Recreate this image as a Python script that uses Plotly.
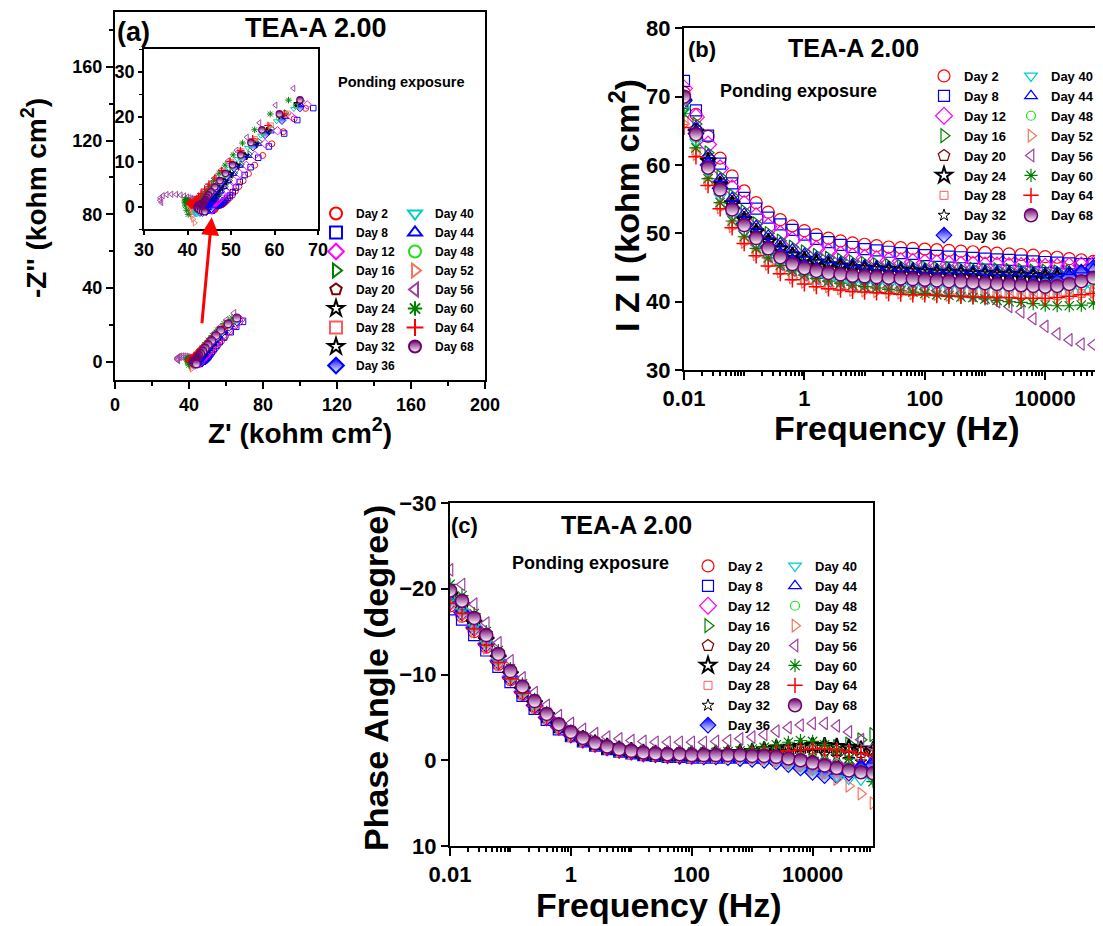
import math
import plotly.graph_objects as go

# ---------------- data ----------------
days = ["Day 2", "Day 8", "Day 12", "Day 16", "Day 20", "Day 24", "Day 28", "Day 32", "Day 36",
        "Day 40", "Day 44", "Day 48", "Day 52", "Day 56", "Day 60", "Day 64", "Day 68"]

freq = [0.01, 0.0158, 0.0251, 0.0398, 0.0631, 0.1, 0.158, 0.251, 0.398, 0.631,
        1, 1.58, 2.51, 3.98, 6.31, 10, 15.8, 25.1, 39.8, 63.1,
        100, 158, 251, 398, 631, 1000, 1580, 2510, 3980, 6310,
        10000, 15800, 25100, 39800, 63100, 100000]

# |Z| (kohm cm2)
z_day2 = [70.6, 67.4, 64.2, 61.0, 58.4, 56.2, 54.5, 53.1, 52.0, 51.1, 50.4, 49.8, 49.3, 48.9, 48.6, 48.4, 48.2, 48.0,
          47.9, 47.8, 47.7, 47.6, 47.5, 47.4, 47.3, 47.2, 47.1, 47.0, 46.9, 46.8, 46.6, 46.5, 46.3, 46.1, 45.9, 45.7]
z_day8 = [72.3, 68.0, 64.3, 60.2, 57.3, 55.2, 53.6, 52.3, 51.3, 50.5, 49.8, 49.2, 48.7, 48.3, 48.0, 47.7, 47.5, 47.3,
          47.1, 47.0, 46.8, 46.7, 46.6, 46.5, 46.4, 46.3, 46.2, 46.1, 46.0, 45.9, 45.8, 45.7, 45.6, 45.5, 45.5, 45.5]
z_day12 = [71.2, 67.0, 63.0, 59.5, 56.6, 54.3, 52.5, 51.0, 49.9, 49.0, 48.3, 47.7, 47.3, 46.9, 46.6, 46.4, 46.2, 46.0,
           45.9, 45.8, 45.7, 45.6, 45.5, 45.4, 45.4, 45.3, 45.3, 45.2, 45.2, 45.1, 45.1, 45.1, 45.2, 45.3, 45.4, 45.5]
z_day16 = [70.3, 66.0, 61.8, 58.3, 55.5, 53.2, 51.4, 50.0, 48.9, 48.0, 47.3, 46.8, 46.4, 46.1, 45.8, 45.6, 45.4, 45.3,
           45.2, 45.1, 45.0, 44.9, 44.9, 44.8, 44.8, 44.7, 44.7, 44.6, 44.6, 44.5, 44.5, 44.4, 44.4, 44.3, 44.3, 44.3]
z_day20 = [69.6, 65.2, 61.0, 57.4, 54.5, 52.2, 50.3, 48.9, 47.8, 46.9, 46.2, 45.7, 45.3, 45.0, 44.8, 44.7, 44.6, 44.5,
           44.4, 44.3, 44.2, 44.1, 44.1, 44.0, 43.9, 43.9, 43.8, 43.8, 43.7, 43.6, 43.5, 43.5, 43.5, 43.6, 43.7, 43.8]
z_day24 = [69.2, 64.8, 60.6, 57.1, 54.3, 52.0, 50.2, 48.8, 47.7, 46.8, 46.2, 45.8, 45.4, 45.2, 45.0, 44.9, 44.8, 44.7,
           44.6, 44.5, 44.4, 44.3, 44.3, 44.2, 44.1, 44.1, 44.0, 44.0, 43.9, 43.8, 43.7, 43.7, 43.7, 43.8, 43.9, 44.0]
z_day28 = [66.5, 62.0, 57.6, 54.0, 51.2, 48.9, 47.1, 45.7, 44.6, 43.7, 43.1, 42.7, 42.4, 42.2, 42.0, 41.9, 41.8, 41.7,
           41.6, 41.5, 41.5, 41.4, 41.3, 41.3, 41.2, 41.1, 41.0, 41.0, 40.9, 40.8, 40.8, 40.9, 41.0, 41.2, 41.4, 41.6]
z_day32 = [68.8, 64.4, 60.2, 56.7, 53.9, 51.6, 49.8, 48.4, 47.3, 46.4, 45.8, 45.3, 44.9, 44.7, 44.5, 44.4, 44.3, 44.2,
           44.1, 44.0, 43.9, 43.8, 43.8, 43.7, 43.6, 43.6, 43.5, 43.5, 43.4, 43.3, 43.2, 43.2, 43.2, 43.3, 43.4, 43.5]
z_day36 = [69.4, 64.6, 60.0, 56.6, 53.7, 51.4, 49.5, 48.0, 46.8, 45.8, 45.1, 44.6, 44.2, 43.9, 43.7, 43.6, 43.5, 43.4,
           43.3, 43.2, 43.1, 43.0, 42.9, 42.9, 42.8, 42.8, 42.7, 42.7, 42.6, 42.6, 42.6, 42.9, 43.5, 44.3, 45.0, 45.5]
z_day40 = [68.0, 63.4, 59.0, 55.4, 52.5, 50.2, 48.3, 46.8, 45.6, 44.7, 44.0, 43.5, 43.2, 42.9, 42.7, 42.6, 42.5, 42.4,
           42.3, 42.2, 42.1, 42.0, 42.0, 41.9, 41.9, 41.8, 41.8, 41.7, 41.7, 41.6, 41.6, 41.6, 41.7, 41.8, 42.0, 42.2]
z_day44 = [69.8, 65.6, 61.5, 58.0, 55.2, 52.9, 51.1, 49.7, 48.6, 47.7, 47.0, 46.5, 46.1, 45.8, 45.5, 45.3, 45.1, 45.0,
           44.9, 44.8, 44.7, 44.6, 44.6, 44.5, 44.5, 44.4, 44.4, 44.3, 44.3, 44.2, 44.2, 44.3, 44.4, 44.6, 44.8, 45.0]
z_day48 = [68.6, 64.0, 59.6, 56.1, 53.2, 50.9, 49.1, 47.6, 46.4, 45.5, 44.9, 44.4, 44.1, 43.9, 43.7, 43.6, 43.5, 43.4,
           43.3, 43.2, 43.1, 43.0, 43.0, 42.9, 42.9, 42.8, 42.8, 42.7, 42.7, 42.6, 42.6, 42.6, 42.7, 42.8, 43.0, 43.2]
z_day52 = [66.0, 61.6, 57.3, 53.8, 51.0, 48.7, 46.9, 45.5, 44.4, 43.5, 42.9, 42.5, 42.2, 41.9, 41.7, 41.6, 41.5, 41.4,
           41.3, 41.2, 41.2, 41.1, 41.0, 41.0, 40.9, 40.8, 40.7, 40.7, 40.6, 40.5, 40.5, 40.6, 40.8, 41.1, 41.4, 41.8]
z_day56 = [69.5, 64.3, 59.5, 55.8, 52.8, 50.3, 48.3, 46.7, 45.5, 44.6, 43.9, 43.4, 43.0, 42.7, 42.5, 42.3, 42.2, 42.1,
           42.0, 41.9, 41.8, 41.6, 41.4, 41.2, 40.9, 40.5, 40.0, 39.3, 38.5, 37.5, 36.4, 35.3, 34.4, 33.8, 33.7, 34.0]
z_day60 = [67.5, 62.5, 58.0, 54.5, 51.8, 49.5, 47.8, 46.4, 45.3, 44.5, 43.9, 43.4, 43.0, 42.7, 42.4, 42.2, 42.0, 41.8,
           41.6, 41.4, 41.2, 41.0, 40.9, 40.7, 40.6, 40.4, 40.2, 40.0, 39.9, 39.7, 39.5, 39.4, 39.4, 39.5, 39.8, 40.2]
z_day64 = [65.5, 61.2, 57.0, 53.6, 50.8, 48.5, 46.7, 45.2, 44.1, 43.2, 42.6, 42.2, 41.9, 41.7, 41.5, 41.4, 41.3, 41.2,
           41.1, 41.0, 41.0, 40.9, 40.8, 40.8, 40.7, 40.7, 40.6, 40.6, 40.5, 40.5, 40.5, 40.6, 40.8, 41.0, 41.2, 41.3]
z_day68 = [70.0, 64.5, 59.6, 56.4, 53.5, 51.2, 49.3, 47.8, 46.5, 45.5, 44.9, 44.5, 44.2, 44.0, 43.8, 43.7, 43.6, 43.5,
           43.4, 43.3, 43.2, 43.1, 43.0, 42.9, 42.8, 42.7, 42.6, 42.5, 42.4, 42.3, 42.2, 42.3, 42.6, 43.0, 43.5, 44.0]

# phase angle (degree)
ph_day2 = [-18.0, -16.8, -15.0, -13.2, -11.2, -9.4, -7.7, -6.2, -4.9, -3.8, -2.9, -2.3, -1.8, -1.4, -1.1, -0.9, -0.7, -0.6,
           -0.5, -0.5, -0.4, -0.4, -0.4, -0.4, -0.4, -0.4, -0.4, -0.3, -0.2, 0.0, 0.2, 0.5, 0.8, 1.0, 1.1, 1.2]
ph_day8 = [-17.6, -16.4, -14.6, -12.8, -10.9, -9.1, -7.5, -6.0, -4.7, -3.6, -2.8, -2.2, -1.7, -1.3, -1.0, -0.8, -0.6, -0.5,
           -0.4, -0.4, -0.3, -0.3, -0.3, -0.3, -0.3, -0.3, -0.3, -0.2, -0.1, 0.1, 0.3, 0.6, 0.9, 1.1, 1.2, 1.2]
ph_day12 = [-18.5, -17.3, -15.5, -13.6, -11.6, -9.7, -8.0, -6.4, -5.0, -3.9, -3.0, -2.4, -1.9, -1.5, -1.2, -1.0, -0.8, -0.7,
            -0.6, -0.5, -0.5, -0.5, -0.5, -0.5, -0.5, -0.5, -0.4, -0.3, -0.2, 0.0, 0.2, 0.4, 0.6, 0.8, 0.9, 1.0]
ph_day16 = [-19.5, -18.3, -16.3, -14.3, -12.1, -10.1, -8.3, -6.6, -5.2, -4.0, -3.1, -2.5, -1.9, -1.5, -1.2, -1.0, -0.9, -0.8,
            -0.7, -0.7, -0.7, -0.7, -0.7, -0.7, -0.8, -0.8, -0.9, -1.0, -1.1, -1.2, -1.3, -1.4, -1.6, -1.9, -2.4, -3.0]
ph_day20 = [-19.0, -17.8, -15.9, -13.9, -11.8, -9.9, -8.1, -6.5, -5.1, -3.9, -3.1, -2.4, -1.9, -1.5, -1.2, -1.0, -0.8, -0.7,
            -0.7, -0.6, -0.6, -0.6, -0.6, -0.7, -0.7, -0.8, -0.9, -1.0, -1.1, -1.2, -1.2, -1.2, -1.1, -1.0, -0.9, -0.8]
ph_day24 = [-19.2, -18.0, -16.0, -14.0, -11.9, -10.0, -8.2, -6.6, -5.2, -4.0, -3.1, -2.5, -2.0, -1.6, -1.3, -1.1, -0.9, -0.8,
            -0.7, -0.7, -0.7, -0.7, -0.8, -0.8, -0.9, -1.0, -1.2, -1.4, -1.5, -1.6, -1.7, -1.7, -1.6, -1.5, -1.3, -1.2]
ph_day28 = [-18.2, -17.0, -15.2, -13.3, -11.3, -9.5, -7.8, -6.3, -4.9, -3.8, -3.0, -2.4, -1.9, -1.5, -1.2, -1.0, -0.8, -0.7,
            -0.6, -0.6, -0.6, -0.6, -0.6, -0.7, -0.7, -0.8, -0.9, -1.0, -1.1, -1.2, -1.2, -1.1, -0.9, -0.6, -0.3, 0.0]
ph_day32 = [-19.0, -17.8, -15.8, -13.8, -11.7, -9.8, -8.0, -6.4, -5.0, -3.9, -3.0, -2.4, -1.9, -1.5, -1.2, -1.0, -0.8, -0.7,
            -0.7, -0.6, -0.6, -0.6, -0.6, -0.7, -0.7, -0.8, -0.9, -1.0, -1.0, -1.0, -0.9, -0.7, -0.4, -0.1, 0.2, 0.4]
ph_day36 = [-18.4, -17.2, -15.4, -13.5, -11.5, -9.6, -7.9, -6.4, -5.0, -3.9, -3.0, -2.4, -1.9, -1.5, -1.2, -1.0, -0.8, -0.7,
            -0.6, -0.5, -0.5, -0.4, -0.4, -0.3, -0.2, -0.1, 0.0, 0.2, 0.5, 0.9, 1.4, 1.8, 1.8, 1.5, 1.0, 0.6]
ph_day40 = [-18.6, -17.4, -15.5, -13.6, -11.6, -9.7, -8.0, -6.4, -5.0, -3.9, -3.0, -2.4, -1.9, -1.5, -1.2, -1.0, -0.8, -0.7,
            -0.6, -0.5, -0.5, -0.5, -0.4, -0.4, -0.3, -0.2, -0.1, 0.1, 0.4, 0.7, 1.1, 1.5, 1.9, 2.2, 2.3, 2.3]
ph_day44 = [-18.8, -17.6, -15.7, -13.8, -11.7, -9.8, -8.1, -6.5, -5.1, -4.0, -3.1, -2.4, -1.9, -1.5, -1.2, -1.0, -0.8, -0.7,
            -0.6, -0.6, -0.5, -0.5, -0.5, -0.5, -0.5, -0.5, -0.4, -0.3, -0.1, 0.2, 0.6, 1.0, 1.3, 1.1, 0.5, 0.0]
ph_day48 = [-19.0, -17.8, -15.8, -13.8, -11.7, -9.8, -8.0, -6.5, -5.1, -3.9, -3.0, -2.4, -1.9, -1.5, -1.2, -1.0, -0.8, -0.7,
            -0.6, -0.6, -0.5, -0.5, -0.5, -0.5, -0.5, -0.5, -0.5, -0.5, -0.5, -0.4, -0.2, 0.1, 0.4, 0.8, 1.2, 1.6]
ph_day52 = [-18.0, -16.8, -15.0, -13.1, -11.2, -9.4, -7.7, -6.2, -4.9, -3.8, -2.9, -2.3, -1.8, -1.4, -1.1, -0.9, -0.7, -0.6,
            -0.5, -0.5, -0.4, -0.4, -0.4, -0.3, -0.3, -0.2, -0.1, 0.1, 0.3, 0.6, 1.0, 1.5, 2.2, 3.0, 3.9, 5.0]
ph_day56 = [-22.2, -20.5, -18.2, -16.0, -13.7, -11.6, -9.6, -7.9, -6.4, -5.2, -4.3, -3.6, -3.1, -2.7, -2.5, -2.3, -2.2, -2.1,
            -2.1, -2.1, -2.1, -2.1, -2.2, -2.3, -2.5, -2.7, -3.0, -3.4, -3.8, -4.1, -4.3, -4.3, -4.0, -3.3, -2.4, -1.5]
ph_day60 = [-20.5, -19.2, -17.1, -15.0, -12.8, -10.7, -8.9, -7.1, -5.6, -4.3, -3.4, -2.7, -2.1, -1.7, -1.4, -1.2, -1.0, -0.9,
            -0.8, -0.8, -0.8, -0.8, -0.9, -1.0, -1.1, -1.3, -1.5, -1.8, -2.1, -2.3, -2.2, -1.8, -1.2, -0.2, 1.2, 2.5]
ph_day64 = [-18.3, -17.1, -15.3, -13.4, -11.4, -9.5, -7.8, -6.3, -5.0, -3.8, -3.0, -2.4, -1.9, -1.5, -1.2, -1.0, -0.8, -0.7,
            -0.6, -0.6, -0.6, -0.6, -0.6, -0.7, -0.7, -0.8, -0.9, -1.0, -1.1, -1.2, -1.3, -1.3, -1.2, -1.0, -0.8, -0.6]
ph_day68 = [-19.8, -18.6, -16.6, -14.6, -12.4, -10.4, -8.6, -6.9, -5.4, -4.2, -3.3, -2.6, -2.0, -1.6, -1.3, -1.1, -0.9, -0.8,
            -0.7, -0.7, -0.6, -0.6, -0.6, -0.6, -0.6, -0.5, -0.5, -0.4, -0.2, 0.0, 0.3, 0.6, 0.9, 1.2, 1.4, 1.5]

log_tick_vals = [0.01, 1, 100, 10000]
log_tick_text = ["0.01", "1", "100", "10000"]

# ---------------- styling ----------------
FONT = "Liberation Sans, Arial, sans-serif"
# the page body keeps an 8 px default margin, so the figure is 8 px smaller than the window
OFF = 8
W, H = 1103 - OFF, 926 - OFF

modulus = [z_day2, z_day8, z_day12, z_day16, z_day20, z_day24, z_day28, z_day32, z_day36,
           z_day40, z_day44, z_day48, z_day52, z_day56, z_day60, z_day64, z_day68]
phase = [ph_day2, ph_day8, ph_day12, ph_day16, ph_day20, ph_day24, ph_day28, ph_day32, ph_day36,
         ph_day40, ph_day44, ph_day48, ph_day52, ph_day56, ph_day60, ph_day64, ph_day68]

styles = {
    "Day 2": dict(symbol="circle-open", color="#FF0000", size=12, lw=1.2),
    "Day 8": dict(symbol="square-open", color="#0000FF", size=11, lw=1.2),
    "Day 12": dict(symbol="diamond-open", color="#FF00FF", size=13, lw=1.2),
    "Day 16": dict(symbol="triangle-right-open", color="#008000", size=12, lw=1.2),
    "Day 20": dict(symbol="pentagon-open", color="#800000", size=12, lw=1.2),
    "Day 24": dict(symbol="star-open", color="#000000", size=12, lw=2.0),
    "Day 28": dict(symbol="square-open", color="#FF5A5A", size=8, lw=1.0),
    "Day 32": dict(symbol="star-open", color="#000000", size=9, lw=1.0),
    "Day 36": dict(symbol="diamond", color="#0000FF", size=12, lw=1.2, grad=True),
    "Day 40": dict(symbol="triangle-down-open", color="#00CCCC", size=11, lw=1.2),
    "Day 44": dict(symbol="triangle-up-open", color="#0000FF", size=11, lw=1.2),
    "Day 48": dict(symbol="circle-open", color="#22DD22", size=9, lw=1.2),
    "Day 52": dict(symbol="triangle-right-open", color="#F07860", size=11, lw=1.2),
    "Day 56": dict(symbol="triangle-left-open", color="#A040A0", size=11, lw=1.2),
    "Day 60": dict(symbol="asterisk-open", color="#008000", size=11, lw=1.2),
    "Day 64": dict(symbol="cross-thin-open", color="#FF0000", size=11, lw=1.5),
    "Day 68": dict(symbol="circle", color="#6E006E", size=13, lw=1.5, grad=True),
}


def marker(day, scale=1.0, lwscale=1.0):
    s = styles[day]
    m = dict(symbol=s["symbol"], size=s["size"] * scale, color=s["color"],
             line=dict(color=s["color"], width=s["lw"] * lwscale))
    if s.get("grad"):
        m["gradient"] = dict(type="vertical", color="white")
    return m


def px_x(p):
    return (p - OFF) / W


def px_y(p):
    return 1 - (p - OFF) / H


fig = go.Figure()

for i, day in enumerate(days):
    mod = modulus[i]
    ph = phase[i]
    zre = [m * math.cos(math.radians(p)) for m, p in zip(mod, ph)]
    zim = [-m * math.sin(math.radians(p)) for m, p in zip(mod, ph)]
    col1 = i < 9
    # (a) main Nyquist
    fig.add_trace(go.Scatter(x=zre, y=zim, mode="markers", name=day, xaxis="x", yaxis="y",
                             marker=marker(day, 0.6, 0.8),
                             legend="legend" if col1 else "legend2"))
    # (a) inset
    fig.add_trace(go.Scatter(x=zre, y=zim, mode="markers", name=day, xaxis="x2", yaxis="y2",
                             marker=marker(day, 0.5, 0.8), showlegend=False))
    # (b) Bode modulus
    fig.add_trace(go.Scatter(x=freq, y=mod, mode="markers", name=day, xaxis="x3", yaxis="y3",
                             marker=marker(day),
                             legend="legend3" if col1 else "legend4"))
    # (c) Bode phase
    fig.add_trace(go.Scatter(x=freq, y=ph, mode="markers", name=day, xaxis="x4", yaxis="y4",
                             marker=marker(day),
                             legend="legend5" if col1 else "legend6"))

tickfont_a = dict(family=FONT, size=18, color="black", weight="bold")
tickfont_b = dict(family=FONT, size=22, color="black", weight="bold")

axis_common = dict(showline=True, linecolor="black", linewidth=2, ticks="outside", tickcolor="black",
                   tickwidth=2, showgrid=False, zeroline=False, automargin=False)

minor_log = [k * 10 ** d for d in range(-2, 5) for k in range(1, 10) if not (k == 1 and d % 2 == 0)]

fig.update_layout(
    width=W, height=H, autosize=False,
    margin=dict(l=0, r=0, t=0, b=0),
    paper_bgcolor="white", plot_bgcolor="white",
    font=dict(family=FONT, color="black"),
    # (a) main
    xaxis=dict(domain=[px_x(115), px_x(485)], range=[0, 200], tickvals=[0, 40, 80, 120, 160, 200],
               minor=dict(dtick=20, ticks="outside", ticklen=4, tickcolor="black", tickwidth=1.5),
               ticklen=7, mirror=True, tickfont=tickfont_a, anchor="y", **axis_common),
    yaxis=dict(domain=[px_y(380), px_y(11.7)], range=[-10, 190], tickvals=[0, 40, 80, 120, 160],
               minor=dict(dtick=20, ticks="outside", ticklen=4, tickcolor="black", tickwidth=1.5),
               ticklen=7, mirror=True, tickfont=tickfont_a, anchor="x", **axis_common),
    # (a) inset
    xaxis2=dict(domain=[px_x(144), px_x(318)], range=[30, 70], tickvals=[30, 40, 50, 60, 70],
                ticklen=4, mirror=True, tickfont=tickfont_a, anchor="y2",
                **{**axis_common, "linewidth": 1.5, "tickwidth": 1.5}),
    yaxis2=dict(domain=[px_y(229), px_y(49)], range=[-5, 35], tickvals=[0, 10, 20, 30],
                minor=dict(dtick=5, ticks="outside", ticklen=3, tickcolor="black", tickwidth=1),
                ticklen=4, mirror=True, tickfont=tickfont_a, anchor="x2",
                **{**axis_common, "linewidth": 1.5, "tickwidth": 1.5}),
    # (b)
    xaxis3=dict(domain=[px_x(684), 1.0], type="log", range=[-2, 4.96],
                tickvals=log_tick_vals, ticktext=log_tick_text, ticklen=8, mirror=True,
                minor=dict(tickvals=minor_log, ticks="outside", ticklen=4, tickcolor="black", tickwidth=1.5),
                tickfont=tickfont_b, anchor="y3", **axis_common),
    yaxis3=dict(domain=[px_y(370), px_y(28.3)], range=[30, 80], tickvals=[30, 40, 50, 60, 70, 80],
                ticklen=7, mirror=False, tickfont=tickfont_b, anchor="x3", **axis_common),
    # (c)
    xaxis4=dict(domain=[px_x(450), px_x(873)], type="log", range=[-2, 5.0],
                tickvals=log_tick_vals, ticktext=log_tick_text, ticklen=8, mirror=True,
                minor=dict(tickvals=minor_log, ticks="outside", ticklen=4, tickcolor="black", tickwidth=1.5),
                tickfont=tickfont_b, anchor="y4", **axis_common),
    yaxis4=dict(domain=[px_y(846), px_y(503)], range=[10, -30], tickvals=[-30, -20, -10, 0, 10],
                ticklen=7, mirror=True, tickfont=tickfont_b, anchor="x4", **axis_common),
)

legend_common = dict(xanchor="left", yanchor="top", bgcolor="rgba(0,0,0,0)", borderwidth=0,
                     tracegroupgap=0, traceorder="normal")
leg_font_a = dict(family=FONT, size=12, color="black", weight="bold")
leg_font_b = dict(family=FONT, size=13, color="black", weight="bold")
fig.update_layout(
    legend=dict(x=px_x(316), y=px_y(199), font=leg_font_a, itemsizing="constant", **legend_common),
    legend2=dict(x=px_x(395), y=px_y(199), font=leg_font_a, itemsizing="constant", **legend_common),
    legend3=dict(x=px_x(924), y=px_y(61), font=leg_font_b, itemsizing="trace", **legend_common),
    legend4=dict(x=px_x(1011), y=px_y(61), font=leg_font_b, itemsizing="trace", **legend_common),
    legend5=dict(x=px_x(688), y=px_y(551), font=leg_font_b, itemsizing="trace", **legend_common),
    legend6=dict(x=px_x(775), y=px_y(551), font=leg_font_b, itemsizing="trace", **legend_common),
)


def label(text, x, y, size, xanchor="left", angle=0):
    return dict(text=text, x=px_x(x), y=px_y(y), xref="paper", yref="paper", showarrow=False,
                xanchor=xanchor, yanchor="middle", textangle=angle,
                font=dict(family=FONT, size=size, color="black", weight="bold"))


annotations = [
    label("(a)", 115, 32, 27),
    label("TEA-A 2.00", 316, 28, 27, "center"),
    label("Ponding exposure", 336, 82, 14.5),
    label("(b)", 686, 50, 22),
    label("TEA-A 2.00", 853, 48, 25, "center"),
    label("Ponding exposure", 718, 91, 18),
    label("(c)", 449, 525, 22),
    label("TEA-A 2.00", 626, 525, 25, "center"),
    label("Ponding exposure", 510, 563, 18),
    # axis titles
    label("Z' (kohm cm<sup>2</sup>)", 300, 431, 28, "center"),
    label("-Z'' (kohm cm<sup>2</sup>)", 34, 198, 28, "center", -90),
    label("Frequency (Hz)", 897, 428, 34, "center"),
    label("I Z I (kohm cm<sup>2</sup>)", 624, 205, 34, "center", -90),
    label("Frequency (Hz)", 659, 905, 34, "center"),
    label("Phase Angle (degree)", 376, 678, 34, "center", -90),
    dict(x=52.3, y=78.4, ax=46.9, ay=20.0, xref="x", yref="y", axref="x", ayref="y",
         showarrow=True, arrowhead=2, arrowsize=1.2, arrowwidth=3, arrowcolor="#FF0000", text="",
         standoff=0, startstandoff=0),
]
fig.update_layout(annotations=annotations)

fig.write_html("out.html")
